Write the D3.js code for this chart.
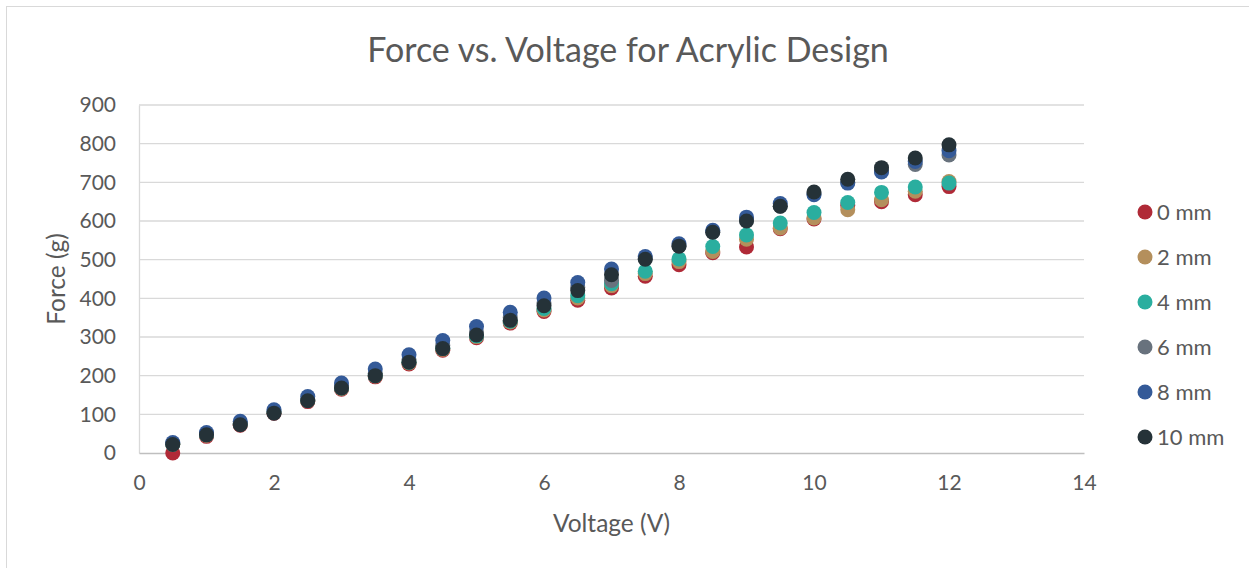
<!DOCTYPE html>
<html>
<head>
<meta charset="utf-8">
<script src="https://cdn.jsdelivr.net/npm/d3@7"></script>
<style>
  body { margin: 0; background: #fff; }
  svg text { font-family: Lato, "Open Sans", sans-serif; fill: #595959; }
</style>
</head>
<body>
<div id="chart"></div>
<script>
// voltage steps (V)
const voltages = [0.5, 1, 1.5, 2, 2.5, 3, 3.5, 4, 4.5, 5, 5.5, 6, 6.5, 7, 7.5, 8, 8.5, 9, 9.5, 10, 10.5, 11, 11.5, 12];

// force readings (g), one array per gap
const force0mm  = [0, 43, 72, 103, 133, 165, 197, 230, 266, 298, 336, 366, 395, 427, 457, 487, 518, 533, 580, 605, 640, 650, 668, 689];
const force2mm  = [22, 46, 74, 105, 135, 167, 199, 233, 268, 301, 339, 370, 401, 433, 464, 495, 521, 553, 582, 608, 629, 655, 677, 702];
const force4mm  = [23, 47, 75, 106, 136, 168, 200, 235, 270, 303, 341, 374, 407, 438, 470, 502, 534, 564, 595, 622, 648, 674, 688, 698];
const force6mm  = [24, 49, 77, 108, 139, 172, 206, 242, 278, 313, 350, 388, 428, 446, 503, 536, 572, 603, 638, 670, 700, 730, 746, 771];
const force8mm  = [27, 53, 82, 112, 146, 181, 217, 254, 291, 327, 364, 401, 441, 476, 508, 541, 576, 610, 645, 668, 698, 727, 754, 782];
const force10mm = [22, 47, 73, 103, 135, 168, 200, 235, 270, 305, 343, 381, 420, 461, 501, 535, 571, 600, 638, 675, 708, 738, 763, 797];

const seriesNames = ["0 mm", "2 mm", "4 mm", "6 mm", "8 mm", "10 mm"];
const seriesColors = ["#b02a37", "#b48f5c", "#2aae9f", "#68727d", "#345a98", "#253238"];
const seriesValues = [force0mm, force2mm, force4mm, force6mm, force8mm, force10mm];

const xTicks = [0, 2, 4, 6, 8, 10, 12, 14];
const yTicks = [0, 100, 200, 300, 400, 500, 600, 700, 800, 900];

const width = 1249, height = 568;
const plot = { left: 139, right: 1084, top: 105, bottom: 453 };

const svg = d3.select("#chart").append("svg")
  .attr("width", width)
  .attr("height", height);

svg.append("rect")
  .attr("x", 6.5).attr("y", 6.5)
  .attr("width", 1260).attr("height", 600)
  .attr("fill", "#fff")
  .attr("stroke", "#d9d9d9");

const x = d3.scaleLinear().domain([0, 14]).range([plot.left, plot.right]);
const y = d3.scaleLinear().domain([0, 900]).range([plot.bottom, plot.top]);

// gridlines
svg.append("g")
  .selectAll("line")
  .data(yTicks.filter(d => d > 0))
  .enter().append("line")
  .attr("x1", plot.left).attr("x2", plot.right)
  .attr("y1", d => y(d)).attr("y2", d => y(d))
  .attr("stroke", "#d9d9d9")
  .attr("stroke-width", 1.3);

// y axis
const yAxis = svg.append("g")
  .attr("transform", `translate(${plot.left},0)`)
  .call(d3.axisLeft(y).tickValues(yTicks).tickSize(0).tickPadding(23));
yAxis.select(".domain").attr("stroke", "#d9d9d9").attr("stroke-width", 1.3);
yAxis.selectAll("text").attr("font-size", 21).attr("fill", "#595959");

// x axis
const xAxis = svg.append("g")
  .attr("transform", `translate(0,${plot.bottom})`)
  .call(d3.axisBottom(x).tickValues(xTicks).tickSize(0).tickPadding(22));
xAxis.select(".domain").attr("stroke", "#bfbfbf").attr("stroke-width", 1.5);
xAxis.selectAll("text").attr("font-size", 21).attr("fill", "#595959");

// points, 0 mm drawn first
seriesValues.forEach((vals, i) => {
  svg.append("g")
    .selectAll("circle")
    .data(vals.map((v, j) => ({ v: voltages[j], f: v })))
    .enter().append("circle")
    .attr("cx", d => x(d.v))
    .attr("cy", d => y(d.f))
    .attr("r", 7.5)
    .attr("fill", seriesColors[i]);
});

// title
svg.append("text")
  .attr("x", 628).attr("y", 62)
  .attr("text-anchor", "middle")
  .attr("font-size", 34)
  .text("Force vs. Voltage for Acrylic Design");

// axis titles
svg.append("text")
  .attr("x", (plot.left + plot.right) / 2).attr("y", 532)
  .attr("text-anchor", "middle")
  .attr("font-size", 24.5)
  .text("Voltage (V)");

svg.append("text")
  .attr("transform", `translate(65,${(plot.top + plot.bottom) / 2}) rotate(-90)`)
  .attr("text-anchor", "middle")
  .attr("font-size", 24.5)
  .text("Force (g)");

// legend
const legend = svg.append("g")
  .selectAll("g")
  .data(seriesNames)
  .enter().append("g")
  .attr("transform", (d, i) => `translate(1145,${212 + i * 45})`);

legend.append("circle")
  .attr("r", 7.5)
  .attr("fill", (d, i) => seriesColors[i]);

legend.append("text")
  .attr("x", 12)
  .attr("dy", "0.35em")
  .attr("font-size", 22)
  .text(d => d);
</script>
</body>
</html>
